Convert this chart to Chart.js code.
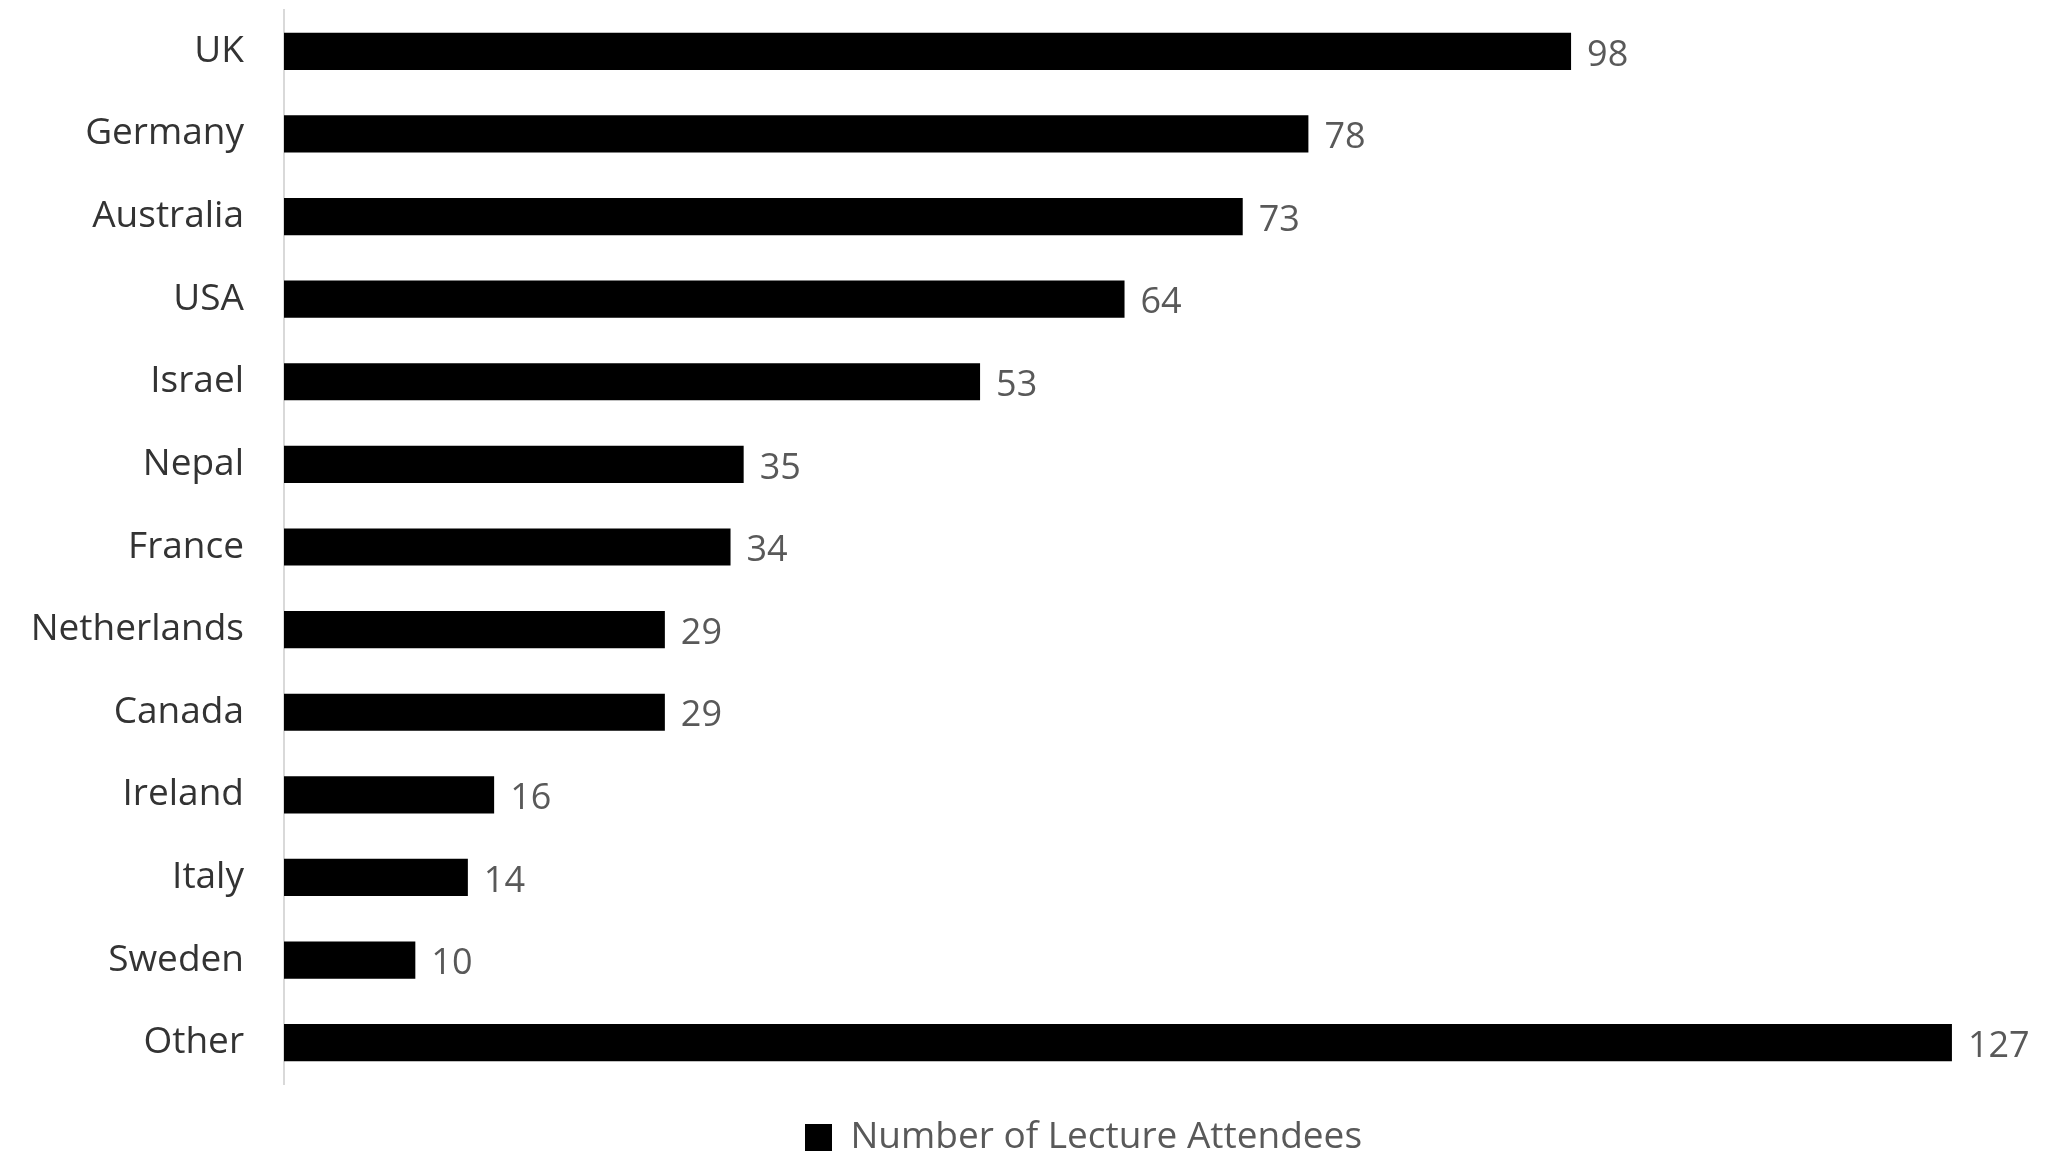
<!DOCTYPE html>
<html>
<head>
<meta charset="utf-8">
<script src="https://cdn.jsdelivr.net/npm/chart.js@4/dist/chart.umd.min.js"></script>
<style>
    body { margin: 0; background: #fff; overflow: hidden; }
    #wrap { width: 2071px; height: 1166px; }
</style>
</head>
<body>
<div id="wrap"><canvas id="grafico"></canvas></div>
<script>
// datos
const countries = ["UK", "Germany", "Australia", "USA", "Israel", "Nepal", "France",
    "Netherlands", "Canada", "Ireland", "Italy", "Sweden", "Other"];
const attendees = [98, 78, 73, 64, 53, 35, 34, 29, 29, 16, 14, 10, 127];
const seriesName = "Number of Lecture Attendees";
const xMax = 135;

const fontFamily = "'Open Sans'";

// etiquetas de valor al final de cada barra
const valueLabels = {
    id: 'valueLabels',
    afterLayout(chart) {
        // mover la leyenda un poco a la derecha, como en el original
        chart.legend.left += 55;
        chart.legend.right += 55;
    },
    afterDatasetsDraw(chart) {
        const ctx = chart.ctx;
        const meta = chart.getDatasetMeta(0);
        ctx.save();
        ctx.font = '36px ' + fontFamily;
        ctx.fillStyle = '#595959';
        ctx.textAlign = 'left';
        ctx.textBaseline = 'middle';
        meta.data.forEach((bar, i) => {
            ctx.fillText(String(attendees[i]), bar.x + 16, bar.y + 4);
        });
        ctx.restore();
    }
};

const ctx = document.getElementById("grafico");

const chart = new Chart(ctx, {
    type: "bar",
    data: {
        labels: countries,
        datasets: [{
            label: seriesName,
            data: attendees,
            backgroundColor: "#000000",
            borderWidth: 0,
            categoryPercentage: 1,
            barPercentage: 0.45
        }]
    },
    options: {
        indexAxis: 'y',
        responsive: true,
        maintainAspectRatio: false,
        animation: false,
        layout: {
            padding: { top: 10, left: 0, right: 14, bottom: 0 }
        },
        plugins: {
            legend: {
                display: true,
                position: 'bottom',
                labels: {
                    boxWidth: 27,
                    boxHeight: 27,
                    padding: 35,
                    color: '#595959',
                    font: { family: fontFamily, size: 37 }
                }
            },
            tooltip: { enabled: false }
        },
        scales: {
            x: {
                display: false,
                min: 0,
                max: xMax
            },
            y: {
                grid: { display: false, drawTicks: false },
                border: { display: true, color: '#d9d9d9', width: 2 },
                ticks: {
                    color: '#333333',
                    padding: 40,
                    font: { family: fontFamily, size: 37 }
                },
                afterFit: (s) => {
                    s.width = 284;
                    s.paddingTop = 0;
                    s.paddingBottom = 0;
                }
            }
        }
    },
    plugins: [valueLabels]
});
</script>
</body>
</html>
